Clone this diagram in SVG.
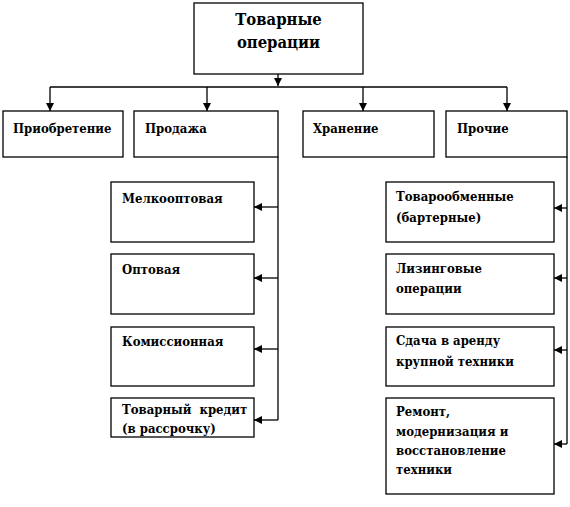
<svg xmlns="http://www.w3.org/2000/svg" width="570" height="507" viewBox="0 0 570 507">
<defs>
<style>
.box{fill:#fff;stroke:#000;stroke-width:1.3}
.c{fill:none;stroke:#000;stroke-width:1.3}
</style>
<marker id="ah" viewBox="0 0 10 10" refX="10" refY="5" markerWidth="8" markerHeight="8" markerUnits="userSpaceOnUse" orient="auto">
<path d="M0,0 L10,5 L0,10 Z" fill="#000"/>
</marker>
</defs>
<rect width="570" height="507" fill="#fff"/>
<g id="connectors">
<line class="c" x1="278" y1="74" x2="278" y2="86" marker-end="url(#ah)"/>
<line class="c" x1="50" y1="87" x2="507" y2="87"/>
<line class="c" x1="50" y1="87" x2="50" y2="111" marker-end="url(#ah)"/>
<line class="c" x1="207" y1="87" x2="207" y2="111" marker-end="url(#ah)"/>
<line class="c" x1="363" y1="87" x2="363" y2="111" marker-end="url(#ah)"/>
<line class="c" x1="507" y1="87" x2="507" y2="111" marker-end="url(#ah)"/>
<line class="c" x1="278" y1="157" x2="278" y2="420"/>
<line class="c" x1="278" y1="207" x2="254" y2="207" marker-end="url(#ah)"/>
<line class="c" x1="278" y1="278" x2="254" y2="278" marker-end="url(#ah)"/>
<line class="c" x1="278" y1="349" x2="254" y2="349" marker-end="url(#ah)"/>
<line class="c" x1="278" y1="420" x2="254" y2="420" marker-end="url(#ah)"/>
<line class="c" x1="567" y1="157" x2="567" y2="444"/>
<line class="c" x1="567" y1="208" x2="554" y2="208" marker-end="url(#ah)"/>
<line class="c" x1="567" y1="278" x2="554" y2="278" marker-end="url(#ah)"/>
<line class="c" x1="567" y1="350" x2="554" y2="350" marker-end="url(#ah)"/>
<line class="c" x1="567" y1="444" x2="554" y2="444" marker-end="url(#ah)"/>
</g>
<g font-family="DejaVu Serif Condensed, DejaVu Serif, serif" font-stretch="condensed" font-weight="bold" font-size="13" fill="#000">
<g id="root"><rect class="box" x="194" y="3" width="169" height="71"/>
<text font-size="16.5" x="278.5" y="25" text-anchor="middle">Товарные</text>
<text font-size="16.5" x="278.5" y="48" text-anchor="middle">операции</text></g>
<g id="n-priobr"><rect class="box" x="3" y="111" width="120" height="46"/><text x="13" y="133">Приобретение</text></g>
<g id="n-prodazha"><rect class="box" x="134" y="111" width="144" height="46"/><text x="145" y="133">Продажа</text></g>
<g id="n-hranenie"><rect class="box" x="303" y="111" width="131" height="46"/><text x="313" y="133">Хранение</text></g>
<g id="n-prochie"><rect class="box" x="446" y="111" width="121" height="46"/><text x="457" y="133">Прочие</text></g>
<g id="n-melkoopt"><rect class="box" x="111" y="182" width="143" height="60"/><text x="122" y="203">Мелкооптовая</text></g>
<g id="n-optovaya"><rect class="box" x="111" y="254" width="143" height="60"/><text x="122" y="274">Оптовая</text></g>
<g id="n-komis"><rect class="box" x="111" y="327" width="143" height="59"/><text x="122" y="346">Комиссионная</text></g>
<g id="n-kredit"><rect class="box" x="111" y="398" width="143" height="39"/><text x="122" y="414" xml:space="preserve">Товарный  кредит</text><text x="122" y="433">(в рассрочку)</text></g>
<g id="n-barter"><rect class="box" x="386" y="182" width="168" height="60"/><text x="396" y="201">Товарообменные</text><text x="396" y="222">(бартерные)</text></g>
<g id="n-lizing"><rect class="box" x="386" y="254" width="168" height="60"/><text x="396" y="273">Лизинговые</text><text x="396" y="293">операции</text></g>
<g id="n-arenda"><rect class="box" x="386" y="327" width="168" height="59"/><text x="396" y="345">Сдача в аренду</text><text x="396" y="366">крупной техники</text></g>
<g id="n-remont"><rect class="box" x="386" y="398" width="168" height="96"/><text x="396" y="416">Ремонт,</text><text x="396" y="436">модернизация и</text><text x="396" y="455">восстановление</text><text x="396" y="474">техники</text></g>
</g>
</svg>
